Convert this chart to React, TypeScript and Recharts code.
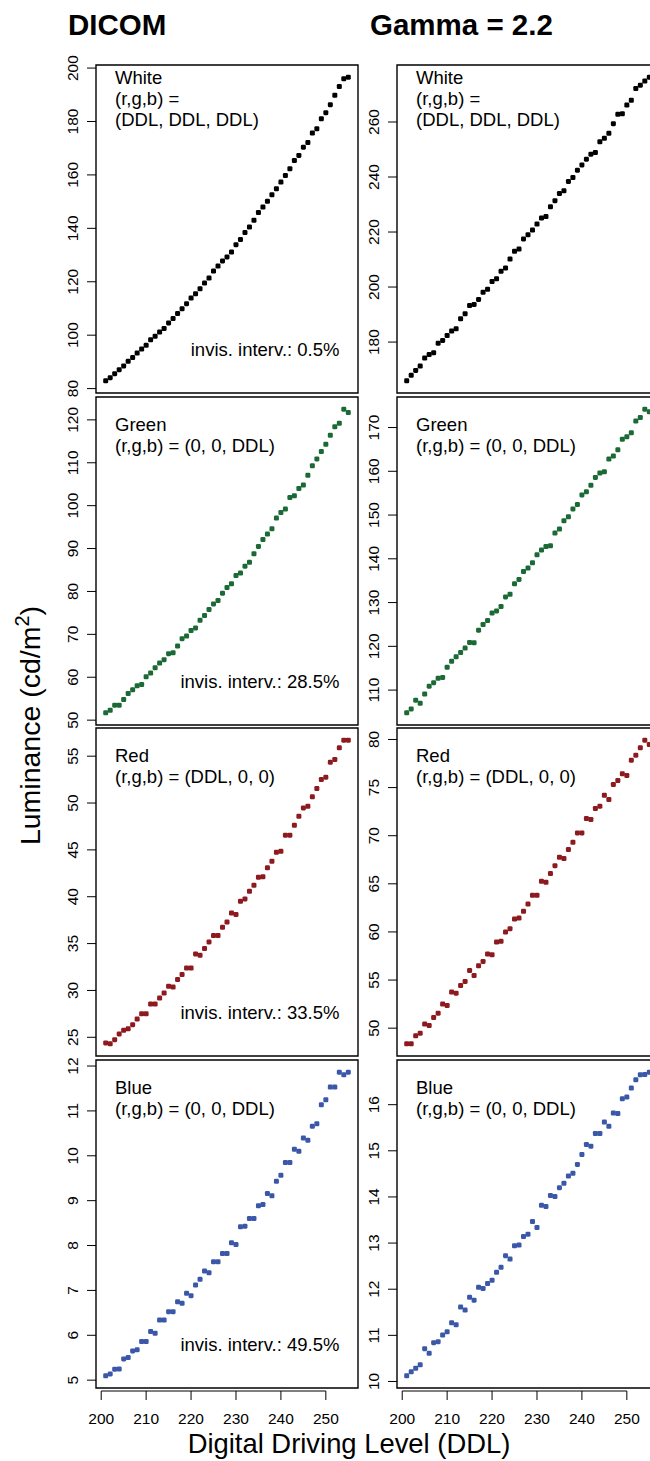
import React from "react";
import { ScatterChart, Scatter, XAxis, YAxis, ReferenceArea, ReferenceLine } from "recharts";

// digital driving levels measured
const DDL = [
  201, 202, 203, 204, 205, 206, 207, 208, 209, 210,
  211, 212, 213, 214, 215, 216, 217, 218, 219, 220,
  221, 222, 223, 224, 225, 226, 227, 228, 229, 230,
  231, 232, 233, 234, 235, 236, 237, 238, 239, 240,
  241, 242, 243, 244, 245, 246, 247, 248, 249, 250,
  251, 252, 253, 254, 255,
];

const X_TICKS = [200, 210, 220, 230, 240, 250];

// luminance, cd/m2
const WHITE_DICOM = [
  82.9, 84.1, 85.6, 87.1, 88.5, 90.2, 91.6, 93.3, 94.8, 96.2,
  98.3, 99.6, 101.2, 102.5, 104.6, 106.2, 108.1, 109.9, 111.8, 113.9,
  115.5, 117.4, 119.5, 121.4, 124.0, 125.9, 127.8, 129.3, 131.1, 133.9,
  135.8, 138.4, 140.5, 143.0, 145.9, 148.0, 150.1, 152.6, 154.8, 157.3,
  159.8, 162.3, 165.4, 167.3, 170.4, 172.1, 175.7, 177.3, 181.0, 183.3,
  186.3, 189.8, 193.1, 196.0, 196.6,
];
const WHITE_GAMMA = [
  165.9, 167.9, 169.7, 171.3, 174.2, 175.5, 176.1, 179.6, 180.6, 182.4,
  184.0, 184.8, 188.5, 190.3, 193.3, 193.7, 195.5, 198.1, 199.2, 202.0,
  203.0, 205.7, 206.9, 210.2, 213.0, 213.8, 217.5, 219.0, 220.7, 222.9,
  225.1, 225.6, 229.2, 231.4, 234.0, 235.0, 238.4, 239.8, 242.5, 244.4,
  246.5, 248.3, 248.9, 252.8, 254.1, 255.9, 259.4, 262.8, 263.0, 266.2,
  267.9, 272.2, 273.4, 274.9, 276.3,
];
const GREEN_DICOM = [
  51.7, 52.3, 53.5, 53.5, 54.8, 56.2, 57.1, 58.0, 58.3, 60.1,
  61.0, 62.2, 63.3, 64.1, 65.5, 65.7, 67.3, 69.0, 69.6, 70.9,
  71.5, 73.3, 74.4, 75.8, 77.1, 77.9, 79.6, 80.9, 81.8, 83.7,
  84.3, 85.9, 86.8, 88.8, 90.5, 92.1, 93.4, 94.6, 97.1, 98.4,
  99.2, 101.9, 102.3, 104.0, 104.8, 107.1, 109.3, 110.9, 112.6, 114.3,
  116.4, 118.4, 119.2, 122.5, 121.7,
];
const GREEN_GAMMA = [
  104.8, 105.7, 107.7, 107.0, 109.1, 110.9, 111.7, 112.7, 112.9, 115.2,
  116.6, 117.6, 118.6, 119.6, 120.9, 120.8, 123.7, 125.0, 125.9, 127.6,
  128.1, 129.1, 131.3, 131.9, 134.3, 135.3, 137.1, 137.9, 139.1, 140.9,
  142.0, 142.8, 143.0, 145.9, 146.8, 148.7, 149.6, 151.4, 152.4, 154.6,
  155.3, 156.8, 158.6, 159.6, 159.9, 162.8, 163.5, 164.9, 167.3, 167.9,
  168.8, 171.5, 172.3, 174.2, 173.6,
];
const RED_DICOM = [
  24.4, 24.3, 24.75, 25.36, 25.75, 25.9, 26.35, 26.96, 27.5, 27.5,
  28.56, 28.56, 29.2, 29.73, 30.44, 30.37, 31.16, 31.69, 32.4, 32.4,
  33.9, 33.75, 34.47, 35.18, 35.85, 35.85, 36.74, 37.31, 38.27, 38.1,
  39.52, 39.77, 40.59, 41.23, 42.08, 42.12, 43.08, 43.79, 44.75, 44.86,
  46.57, 46.57, 47.63, 48.59, 49.48, 49.66, 50.66, 51.55, 52.51, 52.76,
  54.36, 54.64, 55.89, 56.71, 56.71,
];
const RED_GAMMA = [
  48.37, 48.37, 49.2, 49.48, 50.42, 50.28, 51.11, 51.56, 52.5, 52.36,
  53.75, 53.64, 54.44, 54.86, 56.0, 55.48, 56.49, 56.94, 57.7, 57.63,
  58.95, 59.02, 59.99, 60.34, 61.34, 61.45, 62.14, 62.9, 63.8, 63.8,
  65.26, 65.16, 66.06, 66.89, 67.76, 67.62, 68.56, 69.32, 70.29, 70.29,
  71.78, 71.68, 72.82, 73.07, 74.21, 73.76, 75.32, 75.74, 76.43, 76.25,
  77.85, 78.37, 79.14, 79.93, 79.48,
];
const BLUE_DICOM = [
  5.096, 5.14, 5.245, 5.25, 5.474, 5.504, 5.652, 5.675, 5.86, 5.86,
  6.082, 6.045, 6.342, 6.342, 6.527, 6.527, 6.749, 6.712, 6.935, 6.883,
  7.12, 7.246, 7.431, 7.394, 7.639, 7.639, 7.824, 7.824, 8.062, 8.024,
  8.417, 8.432, 8.603, 8.603, 8.884, 8.914, 9.159, 9.107, 9.433, 9.566,
  9.848, 9.848, 10.145, 10.1, 10.397, 10.345, 10.656, 10.715, 11.138, 11.249,
  11.531, 11.531, 11.864, 11.805, 11.864,
];
const BLUE_GAMMA = [
  10.122, 10.209, 10.288, 10.36, 10.712, 10.612, 10.842, 10.863, 11.007, 11.079,
  11.273, 11.23, 11.612, 11.547, 11.827, 11.763, 12.043, 12.014, 12.122, 12.194,
  12.367, 12.475, 12.727, 12.655, 12.942, 12.957, 13.144, 13.194, 13.468, 13.338,
  13.82, 13.791, 14.029, 14.007, 14.201, 14.295, 14.453, 14.511, 14.705, 14.921,
  15.137, 15.101, 15.374, 15.374, 15.626, 15.532, 15.82, 15.806, 16.129, 16.165,
  16.36, 16.54, 16.647, 16.655, 16.705,
];

const TICKS_WHITE_DICOM = [80, 100, 120, 140, 160, 180, 200];
const TICKS_WHITE_GAMMA = [180, 200, 220, 240, 260];
const TICKS_GREEN_DICOM = [50, 60, 70, 80, 90, 100, 110, 120];
const TICKS_GREEN_GAMMA = [110, 120, 130, 140, 150, 160, 170];
const TICKS_RED_DICOM = [25, 30, 35, 40, 45, 50, 55];
const TICKS_RED_GAMMA = [50, 55, 60, 65, 70, 75, 80];
const TICKS_BLUE_DICOM = [5, 6, 7, 8, 9, 10, 11, 12];
const TICKS_BLUE_GAMMA = [10, 11, 12, 13, 14, 15, 16];

const COLUMN_TITLES = ["DICOM", "Gamma = 2.2"];
const INVIS = ["invis. interv.: 0.5%", "invis. interv.: 28.5%", "invis. interv.: 33.5%", "invis. interv.: 49.5%"];
const ROW_TEXT = [
  ["White", "(r,g,b) =", "(DDL, DDL, DDL)"],
  ["Green", "(r,g,b) = (0, 0, DDL)"],
  ["Red", "(r,g,b) = (DDL, 0, 0)"],
  ["Blue", "(r,g,b) = (0, 0, DDL)"],
];

const COLORS = ["#000000", "#1b6a36", "#8c1a1e", "#3a57a8"];

const ROWS = [
  { dicom: WHITE_DICOM, gamma: WHITE_GAMMA, tD: TICKS_WHITE_DICOM, tG: TICKS_WHITE_GAMMA },
  { dicom: GREEN_DICOM, gamma: GREEN_GAMMA, tD: TICKS_GREEN_DICOM, tG: TICKS_GREEN_GAMMA },
  { dicom: RED_DICOM, gamma: RED_GAMMA, tD: TICKS_RED_DICOM, tG: TICKS_RED_GAMMA },
  { dicom: BLUE_DICOM, gamma: BLUE_GAMMA, tD: TICKS_BLUE_DICOM, tG: TICKS_BLUE_GAMMA },
];

// layout
const FONT = '"Liberation Sans", Arial, Helvetica, sans-serif';
const PLOT_W = 262;
const PLOT_H = 328;
const COL_LEFT = [96, 397];
const ROW_TOP = [65, 397, 728, 1060];
const ML = 50, MT = 10, MR = 10, XH = 60;

const pad4 = (lo: number, hi: number) => {
  const p = (hi - lo) * 0.04;
  return [lo - p, hi + p];
};

const YTick = (props: any) => {
  const { x, y, payload } = props;
  return (
    <g>
      <line x1={x - 9} x2={x} y1={y} y2={y} stroke="#000" strokeWidth={1} />
      <text
        transform={`translate(${x - 18.5},${y}) rotate(-90)`}
        textAnchor="middle"
        fontSize={15.5}
        fontFamily={FONT}
        fill="#000"
      >
        {payload.value}
      </text>
    </g>
  );
};

const XTick = (props: any) => {
  const { x, y, payload } = props;
  return (
    <g>
      <line x1={x} x2={x} y1={y + 3} y2={y + 12} stroke="#000" strokeWidth={1} />
      <text x={x} y={y + 36} textAnchor="middle" fontSize={15.5} fontFamily={FONT} fill="#000">
        {payload.value}
      </text>
    </g>
  );
};

const OffsetAxisLine = (p: any) => (
  <line x1={p.x1} x2={p.x2} y1={p.y1 + 3} y2={p.y2 + 3} stroke="#000" strokeWidth={1} />
);

function Panel({ values, ticks, color, left, top, bottomAxis }: {
  values: number[]; ticks: number[]; color: string; left: number; top: number; bottomAxis: boolean;
}) {
  const data = DDL.map((d, i) => ({ ddl: d, lum: values[i] }));
  const xDom = pad4(DDL[0], DDL[DDL.length - 1]);
  const yDom = pad4(Math.min(...values), Math.max(...values));
  const height = MT + PLOT_H + (bottomAxis ? XH : 10);
  const dot = (p: any) => (
    <rect x={p.cx - 2.5} y={p.cy - 2.5} width={5} height={5} rx={1.3} fill={color} />
  );
  return (
    <div style={{ position: "absolute", left: left - ML, top: top - MT }}>
      <ScatterChart
        width={ML + PLOT_W + MR}
        height={height}
        margin={{ top: MT, right: MR, bottom: bottomAxis ? 0 : 10, left: 0 }}
      >
        <XAxis
          type="number"
          dataKey="ddl"
          domain={xDom}
          ticks={X_TICKS}
          hide={!bottomAxis}
          height={XH}
          axisLine={false}
          tickLine={false}
          tickSize={0}
          tickMargin={0}
          tick={XTick}
          allowDataOverflow
        />
        <YAxis
          type="number"
          dataKey="lum"
          domain={yDom}
          ticks={ticks}
          width={ML}
          axisLine={false}
          tickLine={false}
          tickSize={0}
          tickMargin={0}
          tick={YTick}
          interval={0}
          allowDataOverflow
        />
        <ReferenceArea
          x1={xDom[0]} x2={xDom[1]} y1={yDom[0]} y2={yDom[1]}
          fill="none" stroke="#000" strokeWidth={1.4} fillOpacity={0}
          ifOverflow="visible"
        />
        {bottomAxis && (
          <ReferenceLine
            segment={[{ x: X_TICKS[0], y: yDom[0] }, { x: X_TICKS[X_TICKS.length - 1], y: yDom[0] }]}
            shape={OffsetAxisLine}
            ifOverflow="visible"
          />
        )}
        <Scatter data={data} fill={color} shape={dot} isAnimationActive={false} />
      </ScatterChart>
    </div>
  );
}

export default function App() {
  return (
    <div
      style={{
        position: "absolute", left: 0, top: 0, width: 650, height: 1461,
        overflow: "hidden", background: "#fff", fontFamily: FONT,
      }}
    >
      {ROWS.map((r, i) => (
        <React.Fragment key={i}>
          <Panel values={r.dicom} ticks={r.tD} color={COLORS[i]} left={COL_LEFT[0]} top={ROW_TOP[i]} bottomAxis={i === 3} />
          <Panel values={r.gamma} ticks={r.tG} color={COLORS[i]} left={COL_LEFT[1]} top={ROW_TOP[i]} bottomAxis={i === 3} />
        </React.Fragment>
      ))}

      <svg width={650} height={1461} style={{ position: "absolute", left: 0, top: 0, pointerEvents: "none" }}>
        <g fontFamily={FONT} fill="#000">
          <text x={68} y={35} fontSize={29.5} fontWeight="bold">{COLUMN_TITLES[0]}</text>
          <text x={370} y={35} fontSize={29.5} fontWeight="bold">{COLUMN_TITLES[1]}</text>

          {ROW_TEXT.map((lines, i) =>
            COL_LEFT.map((cl, c) => {
              const first = ROW_TOP[i] + (lines.length === 3 ? 18.5 : 33.5);
              return lines.map((t, k) => (
                <text key={`${i}-${c}-${k}`} x={cl + 19} y={first + k * 21} fontSize={18.5}>{t}</text>
              ));
            })
          )}

          {INVIS.map((t, i) => (
            <text
              key={t}
              x={COL_LEFT[0] + PLOT_W - 18.5}
              y={ROW_TOP[i] + PLOT_H - 37.5}
              fontSize={18.5}
              textAnchor="end"
            >
              {t}
            </text>
          ))}

          <text x={349} y={1452.5} fontSize={27.4} textAnchor="middle">Digital Driving Level (DDL)</text>
          <text transform="translate(40,725.5) rotate(-90)" fontSize={28.5} textAnchor="middle">
            Luminance (cd/m<tspan dy={-11} fontSize={20}>2</tspan><tspan dy={11}>)</tspan>
          </text>
        </g>
      </svg>
    </div>
  );
}
